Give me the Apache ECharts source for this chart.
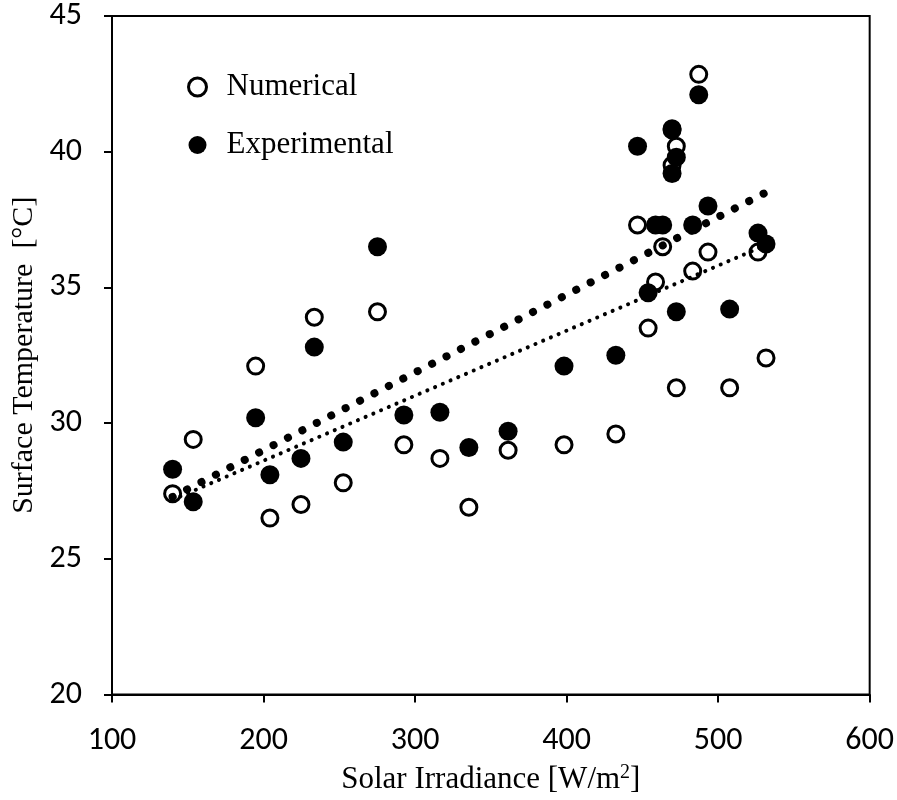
<!DOCTYPE html>
<html>
<head>
<meta charset="utf-8">
<script src="https://cdn.jsdelivr.net/npm/echarts@6/dist/echarts.min.js"></script>
<style>
  html, body { margin: 0; padding: 0; background: #fff; }
  #chart { width: 897px; height: 800px; }
</style>
</head>
<body>
<div id="chart"></div>
<script>
// Solar irradiance [W/m2] shared by both data sets
const irradiance = [140, 153.6, 194.8, 204.2, 224.7, 233.5, 252.6, 275.2, 292.6, 316.4, 335.5, 361.4, 398.3, 432.5,
  446.8, 453.8, 458.7, 463.4, 469.6, 469.6, 472.4, 472.4, 483.2, 487.2, 493.3, 507.6, 526.3, 531.6];
// Surface temperature [°C]
const experimental = [28.3, 27.1, 30.2, 28.1, 28.7, 32.8, 29.3, 36.5, 30.3, 30.4, 29.1, 29.7, 32.1, 32.5,
  40.2, 34.8, 37.3, 37.3, 40.85, 39.2, 39.8, 34.1, 37.3, 42.1, 38.0, 34.2, 37.0, 36.6];
const numerical = [27.4, 29.4, 32.1, 26.5, 27.0, 33.9, 27.8, 34.1, 29.2, 28.7, 26.9, 29.0, 29.2, 29.6,
  37.3, 33.5, 35.2, 36.5, 40.8, 39.5, 40.2, 31.3, 35.6, 42.85, 36.3, 31.3, 36.3, 32.4];

const xTicks = { min: 100, max: 600, interval: 100 };
const yTicks = { min: 20, max: 45, interval: 5 };

// least-squares linear trend over the x range of the data
function linearTrend(xs, ys) {
  const n = xs.length;
  const mx = xs.reduce((a, b) => a + b, 0) / n;
  const my = ys.reduce((a, b) => a + b, 0) / n;
  let sxy = 0, sxx = 0;
  for (let i = 0; i < n; i++) {
    sxy += (xs[i] - mx) * (ys[i] - my);
    sxx += (xs[i] - mx) * (xs[i] - mx);
  }
  const k = sxy / sxx, b = my - k * mx;
  const x0 = Math.min(...xs), x1 = Math.max(...xs);
  return [[x0, k * x0 + b], [x1, k * x1 + b]];
}

const pairs = ys => irradiance.map((x, i) => [x, ys[i]]);

const tickFont = 'Carlito, Lato, sans-serif';
const serif = '"Liberation Serif", "Times New Roman", serif';

const chart = echarts.init(document.getElementById('chart'), null, { renderer: 'canvas' });
chart.setOption({
  animation: false,
  backgroundColor: '#fff',
  grid: {
    left: 112, right: 27, top: 16, bottom: 105,
    show: true, borderColor: '#000', borderWidth: 2, backgroundColor: 'transparent'
  },
  legend: {
    orient: 'vertical',
    left: 187, top: 71, padding: 0,
    itemWidth: 18, itemHeight: 18, itemGap: 26,
    textStyle: { fontFamily: serif, fontSize: 31, lineHeight: 32, color: '#000', padding: [0, 0, 0, 15] },
    data: [
      { name: 'Numerical', icon: 'circle', itemStyle: { color: '#fff', borderColor: '#000', borderWidth: 3 } },
      { name: 'Experimental', icon: 'circle', itemStyle: { color: '#000', borderWidth: 0 } }
    ]
  },
  xAxis: {
    type: 'value',
    min: xTicks.min, max: xTicks.max, interval: xTicks.interval,
    name: 'Solar Irradiance [W/m{sup|2}]',
    nameLocation: 'middle', nameGap: 68,
    nameTextStyle: {
      fontFamily: serif, fontSize: 31, color: '#000',
      rich: { sup: { fontFamily: serif, fontSize: 20, color: '#000', verticalAlign: 'top', padding: [0, 0, 14, 0] } }
    },
    axisLine: { show: true, lineStyle: { color: '#000', width: 2 } },
    axisTick: { show: true, inside: false, length: 8, lineStyle: { color: '#000', width: 2 } },
    axisLabel: { margin: 30, fontFamily: tickFont, fontSize: 32, color: '#000' },
    splitLine: { show: false }
  },
  yAxis: {
    type: 'value',
    min: yTicks.min, max: yTicks.max, interval: yTicks.interval,
    name: 'Surface Temperature  [°C]',
    nameLocation: 'middle', nameGap: 69, nameRotate: 90,
    nameTextStyle: { fontFamily: serif, fontSize: 30, color: '#000' },
    axisLine: { show: true, lineStyle: { color: '#000', width: 2 } },
    axisTick: { show: true, inside: false, length: 8, lineStyle: { color: '#000', width: 2 } },
    axisLabel: { margin: 30, fontFamily: tickFont, fontSize: 32, color: '#000' },
    splitLine: { show: false }
  },
  series: [
    {
      name: 'Numerical', type: 'scatter', symbol: 'circle', symbolSize: 16,
      itemStyle: { color: '#fff', borderColor: '#000', borderWidth: 3, opacity: 1 },
      data: pairs(numerical), z: 2
    },
    {
      name: 'Experimental', type: 'scatter', symbol: 'circle', symbolSize: 19,
      itemStyle: { color: '#000', opacity: 1 },
      data: pairs(experimental), z: 3
    },
    {
      name: 'Numerical trend', type: 'line', showSymbol: false, silent: true,
      lineStyle: { color: '#000', width: 4, type: [0.1, 8.3], cap: 'round' },
      data: linearTrend(irradiance, numerical), z: 4
    },
    {
      name: 'Experimental trend', type: 'line', showSymbol: false, silent: true,
      lineStyle: { color: '#000', width: 8, type: [0.1, 16.1], cap: 'round' },
      data: linearTrend(irradiance, experimental), z: 4
    }
  ]
});
</script>
</body>
</html>
